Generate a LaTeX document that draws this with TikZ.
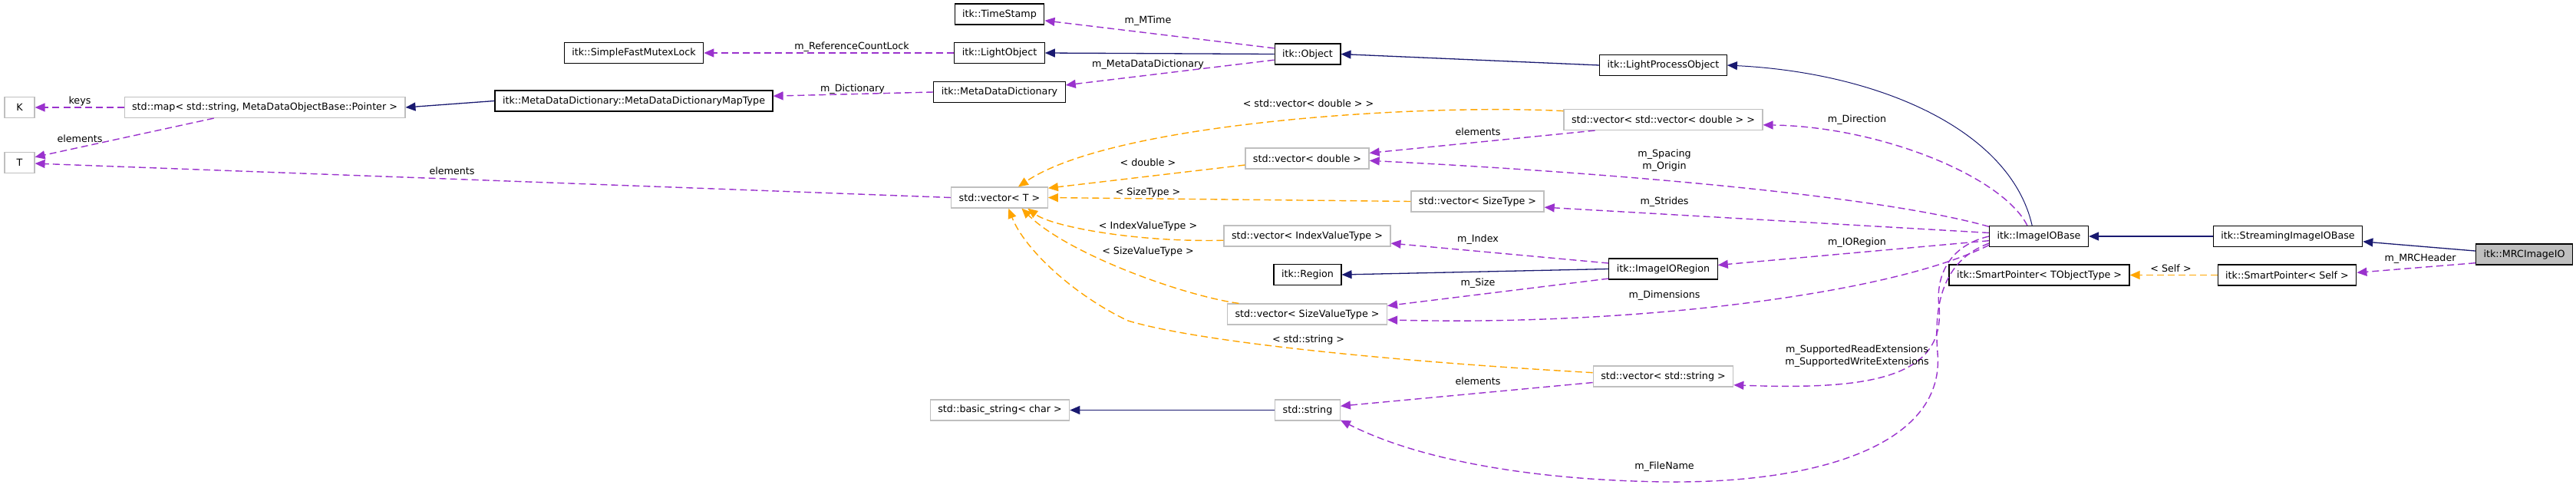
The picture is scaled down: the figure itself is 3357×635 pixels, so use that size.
\documentclass[tikz,border=0pt]{standalone}
\usepackage{fontspec}
\setmainfont{DejaVu Sans}
\usetikzlibrary{arrows.meta}
\definecolor{inhblue}{HTML}{191970}
\definecolor{usepurple}{HTML}{9A32CD}
\definecolor{tplorange}{HTML}{FFA500}
\definecolor{boxgray}{HTML}{BFBFBF}
\begin{document}
\begin{tikzpicture}[x=1pt,y=-1pt,font=\fontsize{12.7}{16}\selectfont,
  cls/.style={draw=black,line width=1.2pt,fill=white,minimum height=27pt,minimum width=39pt,inner xsep=10pt,inner ysep=0pt},
  ext/.style={cls,draw=boxgray},
  cur/.style={cls,fill=boxgray},
  inh/.style={inhblue,line width=1.3pt,-{Triangle[length=13pt,width=11pt]}},
  use/.style={usepurple,line width=1.4pt,dash pattern=on 9pt off 5pt,-{Triangle[length=13pt,width=11pt]}},
  tpl/.style={tplorange,line width=1.4pt,dash pattern=on 9pt off 5pt,-{Triangle[length=13pt,width=11pt]}},
  lbl/.style={black,inner sep=0pt,align=center}]
\useasboundingbox (0,0) rectangle (3357,635);
\node[ext] (K) at (25.5,140) {K};
\node[ext] (T) at (25.5,212) {T};
\node[ext] (stdmap) at (345,140) {std::map< std::string, MetaDataObjectBase::Pointer >};
\node[cls] (mutexlock) at (826,69) {itk::SimpleFastMutexLock};
\node[cls] (mdmap) at (826,131.5) {itk::MetaDataDictionary::MetaDataDictionaryMapType};
\node[cls] (timestamp) at (1302.5,18.5) {itk::TimeStamp};
\node[cls] (lightobj) at (1302.5,69) {itk::LightObject};
\node[cls] (mddict) at (1302.5,120) {itk::MetaDataDictionary};
\node[ext] (vT) at (1302.5,257.5) {std::vector< T >};
\node[ext] (bstr) at (1303,534.5) {std::basic\_string< char >};
\node[cls] (object) at (1704,70.5) {itk::Object};
\node[ext] (vd) at (1703.5,206.5) {std::vector< double >};
\node[ext] (vivt) at (1703.5,307.5) {std::vector< IndexValueType >};
\node[cls] (region) at (1704,358) {itk::Region};
\node[ext] (vsvt) at (1703.5,409.5) {std::vector< SizeValueType >};
\node[ext] (str) at (1704,534.5) {std::string};
\node[ext] (vst) at (1925.5,262.5) {std::vector< SizeType >};
\node[cls] (lpo) at (2167.5,85) {itk::LightProcessObject};
\node[ext] (vvd) at (2167.5,156) {std::vector< std::vector< double > >};
\node[cls] (ioregion) at (2167.5,350.5) {itk::ImageIORegion};
\node[ext] (vss) at (2167.5,490.5) {std::vector< std::string >};
\node[cls] (iobase) at (2657,308) {itk::ImageIOBase};
\node[cls] (sptobj) at (2657.5,358.5) {itk::SmartPointer< TObjectType >};
\node[cls] (streaming) at (2981.5,308) {itk::StreamingImageIOBase};
\node[cls] (spself) at (2980.5,358.5) {itk::SmartPointer< Self >};
\node[cur] (mrc) at (3289.5,331.5) {itk::MRCImageIO};
\draw[use] (object.170) -- (timestamp.-8) node[lbl] at (1496,27) {m\_MTime};
\draw[use] (lightobj.west) -- (mutexlock.east) node[lbl] at (1110,61) {m\_ReferenceCountLock};
\draw[inh] (object.west) -- (lightobj.east);
\draw[use] (object.190) -- (mddict.6) node[lbl] at (1496,84) {m\_MetaDataDictionary};
\draw[use] (mddict.west) -- (mdmap.2) node[lbl] at (1111,116) {m\_Dictionary};
\draw[inh] (mdmap.west) -- (stdmap.east);
\draw[use] (stdmap.west) -- (K.east) node[lbl] at (104,132) {keys};
\draw[use] (stdmap.192) -- (T.20) node[lbl] at (104,181) {elements};
\draw[use] (vT.west) -- (T.-3) node[lbl] at (589,223) {elements};
\draw[inh] (lpo.west) -- (object.east);
\draw[inh,line width=1pt] (iobase.122) .. controls (2620,170) and (2450,95) .. (lpo.east);
\draw[inh] (streaming.west) -- (iobase.east);
\draw[inh] (mrc.176) -- (streaming.-4);
\draw[use] (mrc.190) -- (spself.2) node[lbl] at (3154,337) {m\_MRCHeader};
\draw[tpl] (spself.west) -- (sptobj.east) node[lbl] at (2829,350) {< Self >};
\draw[tpl] (vvd.175) .. controls (1850,135) and (1450,160) .. (vT.30) node[lbl] at (1705,135) {< std::vector< double > >};
\draw[use] (vvd.189) -- (vd.5) node[lbl] at (1926,172) {elements};
\draw[use] (iobase.169) .. controls (2450,255) and (2100,225) .. (vd.-2) node[lbl] at (2169,209) {m\_Spacing\\m\_Origin};
\draw[use] (iobase.137) .. controls (2610,230) and (2450,165) .. (vvd.-3) node[lbl] at (2420,156) {m\_Direction};
\draw[tpl] (vd.186) -- (vT.11) node[lbl] at (1496,212) {< double >};
\draw[tpl] (vst.west) -- (vT.east) node[lbl] at (1496,251) {< SizeType >};
\draw[use] (iobase.176) -- (vst.-5) node[lbl] at (2169,263) {m\_Strides};
\draw[tpl] (vivt.183) .. controls (1480,316) and (1370,295) .. (vT.-21) node[lbl] at (1496,295) {< IndexValueType >};
\draw[use] (ioregion.174) -- (vivt.-5.5) node[lbl] at (1926,312) {m\_Index};
\draw[inh] (ioregion.west) -- (region.east);
\draw[use] (ioregion.190) -- (vsvt.6) node[lbl] at (1926,369) {m\_Size};
\draw[use] (iobase.185) -- (ioregion.4) node[lbl] at (2420,316) {m\_IORegion};
\draw[use] (iobase.190) .. controls (2460,385) and (2120,425) .. (vsvt.-4) node[lbl] at (2169,385) {m\_Dimensions};
\draw[tpl] (vsvt.171) .. controls (1540,385) and (1390,330) .. (vT.-26) node[lbl] at (1496,328) {< SizeValueType >};
\draw[tpl] (vss.177) .. controls (1800,470) and (1560,445) .. (1470,418) .. controls (1400,385) and (1335,325) .. (vT.-50) node[lbl] at (1705,443) {< std::string >};
\draw[use] (iobase.west) .. controls (2540,320) and (2522,360) .. (2527,400) .. controls (2535,495) and (2430,508) .. (vss.-7) node[lbl] at (2420,464) {m\_SupportedReadExtensions\\m\_SupportedWriteExtensions};
\draw[use] (vss.185) -- (str.7) node[lbl] at (1926,497) {elements};
\draw[inh] (str.west) -- (bstr.east);
\draw[use] (iobase.188) .. controls (2530,340) and (2520,400) .. (2525,460) .. controls (2535,575) and (2380,630) .. (2171,628) .. controls (2000,626) and (1850,600) .. (str.-17) node[lbl] at (2169,608) {m\_FileName};
\end{tikzpicture}
\end{document}
